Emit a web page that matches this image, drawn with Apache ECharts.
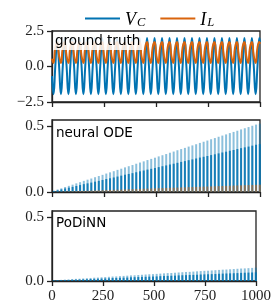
<!DOCTYPE html>
<html><head><meta charset="utf-8">
<script src="https://cdn.jsdelivr.net/npm/echarts@6/dist/echarts.min.js"></script>
<style>html,body{margin:0;padding:0;background:#fff}#c{width:274px;height:304px}</style>
</head><body><div id="c"></div>
<script>
// ---- ground truth (panel 1) ----
const tGT = [0,
7,16,25,34, 43,52,61,70, 79,88,97,106, 115,124,133,142,
151,160,169,178, 187,196,205,214, 223,232,241,250, 259,268,277,286,
295,304,313,322, 331,340,349,358, 367,376,385,394, 403,412,421,430,
439,448,457,466, 475,484,493,502, 511,520,529,538, 547,556,565,574,
583,592,601,610, 619,628,637,646, 655,664,673,682, 691,700,709,718,
727,736,745,754, 763,772,781,790, 799,808,817,826, 835,844,853,862,
871,880,889,898, 907,916,925,934, 943,952,961,970,
979,988,997,
1000];
const vC = [-0.68,
-1.95,0.05,2.0,0.05, -1.95,0.05,2.0,0.05, -1.95,0.05,2.0,0.05, -1.95,0.05,2.0,0.05,
-1.95,0.05,2.0,0.05, -1.95,0.05,2.0,0.05, -1.95,0.05,2.0,0.05, -1.95,0.05,2.0,0.05,
-1.95,0.05,2.0,0.05, -1.95,0.05,2.0,0.05, -1.95,0.05,2.0,0.05, -1.95,0.05,2.0,0.05,
-1.95,0.05,2.0,0.05, -1.95,0.05,2.0,0.05, -1.95,0.05,2.0,0.05, -1.95,0.05,2.0,0.05,
-1.95,0.05,2.0,0.05, -1.95,0.05,2.0,0.05, -1.95,0.05,2.0,0.05, -1.95,0.05,2.0,0.05,
-1.95,0.05,2.0,0.05, -1.95,0.05,2.0,0.05, -1.95,0.05,2.0,0.05, -1.95,0.05,2.0,0.05,
-1.95,0.05,2.0,0.05, -1.95,0.05,2.0,0.05, -1.95,0.05,2.0,0.05,
-1.95,0.05,2.0,
1.72];
const iL = [0.55,
0.25,1.35,1.72,0.75, 0.25,1.35,1.72,0.75, 0.25,1.35,1.72,0.75, 0.25,1.35,1.72,0.75,
0.25,1.35,1.72,0.75, 0.25,1.35,1.72,0.75, 0.25,1.35,1.72,0.75, 0.25,1.35,1.72,0.75,
0.25,1.35,1.72,0.75, 0.25,1.35,1.72,0.75, 0.25,1.35,1.72,0.75, 0.25,1.35,1.72,0.75,
0.25,1.35,1.72,0.75, 0.25,1.35,1.72,0.75, 0.25,1.35,1.72,0.75, 0.25,1.35,1.72,0.75,
0.25,1.35,1.72,0.75, 0.25,1.35,1.72,0.75, 0.25,1.35,1.72,0.75, 0.25,1.35,1.72,0.75,
0.25,1.35,1.72,0.75, 0.25,1.35,1.72,0.75, 0.25,1.35,1.72,0.75, 0.25,1.35,1.72,0.75,
0.25,1.35,1.72,0.75, 0.25,1.35,1.72,0.75, 0.25,1.35,1.72,0.75,
0.25,1.35,1.72,
1.6];

// ---- error panels ----
const tErr = [
9,27,45,63,81,99,117,135,
153,171,189,207,225,243,261,279,
297,315,333,351,369,387,405,423,
441,459,477,495,513,531,549,567,
585,603,621,639,657,675,693,711,
729,747,765,783,801,819,837,855,
873,891,909,927,945,963,981,999];
const odeUpper = [
0.010,0.019,0.028,0.038,0.047,0.056,0.066,0.075,
0.085,0.094,0.103,0.113,0.122,0.131,0.141,0.150,
0.159,0.169,0.178,0.188,0.197,0.206,0.216,0.225,
0.234,0.244,0.253,0.262,0.272,0.281,0.290,0.300,
0.309,0.319,0.328,0.337,0.347,0.356,0.365,0.375,
0.384,0.393,0.403,0.412,0.422,0.431,0.440,0.450,
0.459,0.468,0.478,0.487,0.496,0.506,0.515,0.522];
const odeLower = [
0.007,0.013,0.020,0.027,0.033,0.039,0.046,0.053,
0.060,0.066,0.072,0.079,0.085,0.092,0.099,0.105,
0.111,0.118,0.125,0.132,0.138,0.144,0.151,0.158,
0.164,0.171,0.177,0.183,0.190,0.197,0.203,0.210,
0.216,0.223,0.230,0.236,0.243,0.249,0.256,0.263,
0.269,0.275,0.282,0.288,0.295,0.302,0.308,0.315,
0.321,0.328,0.335,0.341,0.347,0.354,0.361,0.366];
const odeIL = [
0.001,0.002,0.003,0.004,0.005,0.006,0.007,0.008,
0.009,0.010,0.011,0.012,0.013,0.014,0.015,0.016,
0.017,0.018,0.019,0.020,0.021,0.022,0.023,0.024,
0.025,0.026,0.027,0.028,0.029,0.030,0.031,0.032,
0.033,0.034,0.035,0.036,0.037,0.038,0.039,0.040,
0.041,0.042,0.043,0.044,0.045,0.046,0.047,0.048,
0.049,0.050,0.051,0.052,0.053,0.054,0.055,0.056];
const podUpper = [
0.006,0.008,0.009,0.011,0.013,0.015,0.017,0.018,
0.020,0.022,0.024,0.026,0.027,0.029,0.031,0.033,
0.035,0.036,0.038,0.040,0.042,0.044,0.045,0.047,
0.049,0.051,0.053,0.054,0.056,0.058,0.060,0.062,
0.063,0.065,0.067,0.069,0.071,0.072,0.074,0.076,
0.078,0.080,0.081,0.083,0.085,0.087,0.089,0.090,
0.092,0.094,0.096,0.098,0.099,0.101,0.103,0.105];
const podLower = [
0.004,0.005,0.006,0.007,0.008,0.010,0.011,0.012,
0.013,0.014,0.016,0.017,0.018,0.019,0.020,0.021,
0.023,0.024,0.025,0.026,0.027,0.029,0.030,0.031,
0.032,0.033,0.034,0.035,0.036,0.038,0.039,0.040,
0.041,0.042,0.044,0.045,0.046,0.047,0.048,0.049,
0.051,0.052,0.053,0.054,0.055,0.057,0.058,0.059,
0.060,0.061,0.062,0.064,0.065,0.066,0.067,0.068];

const xTicks = [0,250,500,750,1000];
const yTicksGT = [-2.5,0,2.5];
const yTicksErr = [0,0.5];
const panelLabels = ['ground truth','neural ODE','PoDiNN'];

const BLUE = '#0173b2', ORANGE = '#d9640c', INK = '#222';
const pairs = (xs, ys) => xs.map((x,i)=>[x, ys[i]]);
const fmtY = v => Number(v).toFixed(1).replace('-', '\u2212');
const fmtX = v => String(Math.round(v));
const serif = 'Liberation Serif';

function xAx(i, showLabel){
  return {type:'value', gridIndex:i, min:0, max:1000, interval:250,
    axisLine:{show:true, onZero:false, lineStyle:{color:INK, width:1.3}},
    axisTick:{show:true, length:5, customValues:xTicks, lineStyle:{color:INK, width:1.3}},
    axisLabel:{show:showLabel, margin:8, customValues:xTicks, formatter:fmtX, fontFamily:serif, fontSize:15, color:INK},
    splitLine:{show:false}};
}
function yAx(i, min, max, ticks){
  return {type:'value', gridIndex:i, min:min, max:max,
    axisLine:{show:true, onZero:false, lineStyle:{color:INK, width:1.3}},
    axisTick:{show:true, length:5, customValues:ticks, lineStyle:{color:INK, width:1.3}},
    axisLabel:{show:true, margin:8, customValues:ticks, formatter:fmtY, fontFamily:serif, fontSize:15, color:INK},
    splitLine:{show:false}};
}
const gridBase = {left:52, width:208, show:true, borderColor:INK, borderWidth:1.3, backgroundColor:'transparent'};

const labelStyle = {fontFamily:'DejaVu Sans', fontSize:13.5, fontWeight:'normal', color:'#000'};

const chart = echarts.init(document.getElementById('c'), null, {renderer:'canvas'});
chart.setOption({
  animation:false,
  grid:[
    Object.assign({top:31, height:71}, gridBase),
    Object.assign({top:120, height:72}, gridBase),
    Object.assign({top:211, height:71}, gridBase)
  ],
  xAxis:[xAx(0,false), xAx(1,false), xAx(2,true)],
  yAxis:[yAx(0,-2.5,2.5,yTicksGT), yAx(1,0,0.55,yTicksErr), yAx(2,0,0.55,yTicksErr)],
  legend:{
    data:['V_C','I_L'], top:5, left:80, icon:'rect', itemWidth:35, itemHeight:2, itemGap:15,
    formatter: n => n==='V_C' ? '{v|V}{s|C}' : '{v|I}{s|L}',
    textStyle:{rich:{
      v:{fontFamily:serif, fontStyle:'italic', fontSize:18, color:'#000', lineHeight:21, verticalAlign:'bottom'},
      s:{fontFamily:serif, fontStyle:'italic', fontSize:12.5, color:'#000', lineHeight:21, verticalAlign:'bottom', padding:[6,0,0,1]}
    }}
  },
  title:[
    {text:panelLabels[0], left:53, top:33, padding:[1,2,2,2], backgroundColor:'rgba(255,255,255,0.85)', textStyle:labelStyle},
    {text:panelLabels[1], left:54, top:125, padding:[1,2,1,2], textStyle:labelStyle},
    {text:panelLabels[2], left:54, top:215, padding:[1,2,1,2], textStyle:labelStyle}
  ],
  series:[
    {name:'V_C', type:'line', xAxisIndex:0, yAxisIndex:0, data:pairs(tGT,vC), smooth:true, showSymbol:false, color:BLUE, lineStyle:{width:2, color:BLUE}},
    {name:'I_L', type:'line', xAxisIndex:0, yAxisIndex:0, data:pairs(tGT,iL), smooth:true, showSymbol:false, color:ORANGE, lineStyle:{width:2, color:ORANGE}},
    {name:'ode V upper', type:'bar', xAxisIndex:1, yAxisIndex:1, data:pairs(tErr,odeUpper), barWidth:2, barGap:'-100%', itemStyle:{color:'rgba(1,115,178,0.45)'}},
    {name:'ode V lower', type:'bar', xAxisIndex:1, yAxisIndex:1, data:pairs(tErr,odeLower), barWidth:2, barGap:'-100%', itemStyle:{color:'rgba(1,115,178,0.85)'}},
    {name:'ode I', type:'bar', xAxisIndex:1, yAxisIndex:1, data:pairs(tErr,odeIL), barWidth:2, barGap:'-100%', itemStyle:{color:'rgba(217,100,12,0.55)'}},
    {name:'pod V upper', type:'bar', xAxisIndex:2, yAxisIndex:2, data:pairs(tErr,podUpper), barWidth:2, barGap:'-100%', itemStyle:{color:'rgba(1,115,178,0.45)'}},
    {name:'pod V lower', type:'bar', xAxisIndex:2, yAxisIndex:2, data:pairs(tErr,podLower), barWidth:2, barGap:'-100%', itemStyle:{color:'rgba(1,115,178,0.85)'}}
  ]
});
</script></body></html>
